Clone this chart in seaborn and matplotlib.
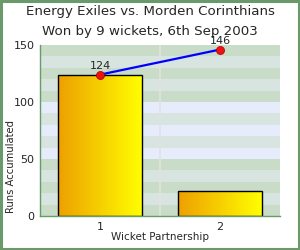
import matplotlib
matplotlib.use("Agg")
import matplotlib.pyplot as plt
import numpy as np
import seaborn as sns
from matplotlib.colors import LinearSegmentedColormap

# Data
partnerships = ["1", "2"]
runs = [124, 22]
cumulative = [124, 146]

sns.set_style("white")
plt.rcParams["font.family"] = ["DejaVu Sans"]

fig = plt.figure(figsize=(3, 2.5), dpi=100)
ax = fig.add_axes([40 / 300, 34 / 250, 240 / 300, 171 / 250])

sns.barplot(x=partnerships, y=runs, ax=ax, width=0.7, color="#ffd000",
            edgecolor="black", linewidth=1, zorder=2)
bars = list(ax.patches)

# striped background
for lo in range(0, 150, 10):
    idx = lo // 10
    if 50 <= lo < 100:
        col = "#e6ecfc" if idx % 2 == 1 else "#d8e4e0"
    else:
        col = "#c8dcc8" if idx % 2 == 0 else "#d8e4e0"
    ax.axhspan(lo, lo + 10, color=col, zorder=0, lw=0)
ax.axvline(0.5, color="#e2e2e2", lw=1.2, zorder=0.5)

# gradient fill for bars
cmap = LinearSegmentedColormap.from_list("oy", ["#eea000", "#ffff00"])
grad = np.linspace(0, 1, 256).reshape(1, -1)
for p in bars:
    x0, y0 = p.get_x(), p.get_y()
    w, h = p.get_width(), p.get_height()
    im = ax.imshow(grad, cmap=cmap, aspect="auto", extent=[x0, x0 + w, y0, y0 + h],
                   zorder=2.1, interpolation="bicubic")
    im.set_clip_path(p)
    p.set_facecolor("none")
    p.set_zorder(2.2)

xs = np.arange(len(cumulative))
ax.plot(xs, cumulative, color="#0000ff", lw=1.6, zorder=3)
ax.scatter(xs, cumulative, s=34, color="#ee1111", edgecolor="#aa0000", lw=0.5, zorder=4)
for x, v in zip(xs, cumulative):
    ax.text(x, v + 3, str(v), ha="center", va="bottom", fontsize=8, zorder=5)

ax.set_xlim(-0.5, 1.5)
ax.set_ylim(0, 150)
ax.set_yticks([0, 50, 100, 150])
ax.tick_params(labelsize=8, length=0, pad=4)
ax.set_xlabel("Wicket Partnership", fontsize=7.5, labelpad=0)
ax.set_ylabel("Runs Accumulated", fontsize=7.2)
ax.yaxis.set_label_coords(-24 / 240, 0.29)
for s in ["top", "right"]:
    ax.spines[s].set_visible(False)
for s in ["left", "bottom"]:
    ax.spines[s].set_color("#6a9a6a")
    ax.spines[s].set_linewidth(1)

fig.text(0.5, 1 - 11 / 250, "Energy Exiles vs. Morden Corinthians", ha="center",
         va="center", fontsize=9.6)
fig.text(0.5, 1 - 31 / 250, "Won by 9 wickets, 6th Sep 2003", ha="center",
         va="center", fontsize=9.6)

# outer green frame
fig.patches.append(plt.Rectangle((0.003, 0.004), 0.994, 0.992, transform=fig.transFigure,
                                 fill=False, edgecolor="#6a9a6a", lw=2.2))

fig.savefig("out.png", dpi=100)
